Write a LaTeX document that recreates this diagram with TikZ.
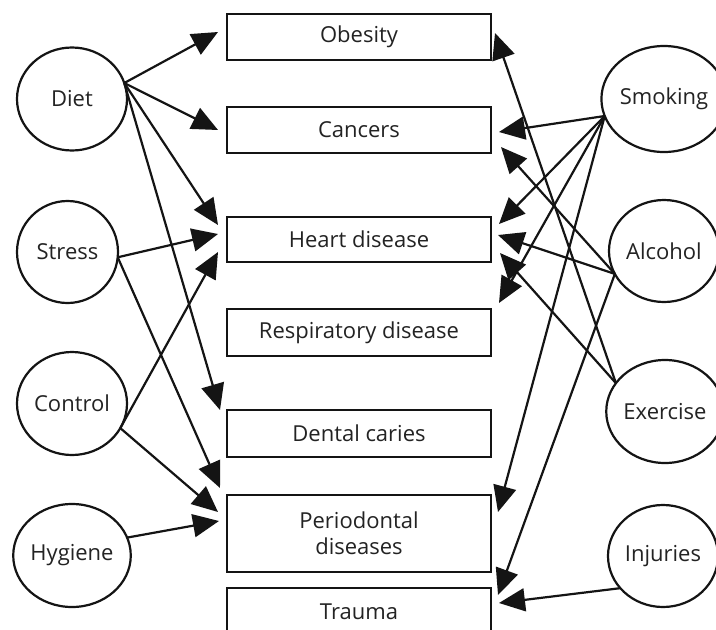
\documentclass[tikz,border=0pt]{standalone}
\usepackage{fontspec}
\setmainfont{Open Sans}
\usetikzlibrary{arrows.meta,shapes.geometric}
\definecolor{ink}{RGB}{20,20,20}
\definecolor{txt}{RGB}{35,35,35}
\tikzset{
  box/.style={draw=ink, line width=2.2pt, rectangle, minimum width=264pt, inner sep=0pt, outer sep=0pt,
    text=txt, font=\fontsize{22}{26}\selectfont, align=center},
  factor/.style={draw=ink, line width=2.2pt, ellipse, inner sep=0pt, outer sep=0pt,
    text=txt, font=\fontsize{22}{26}\selectfont},
  arr/.style={draw=ink, line width=2.2pt, -{Triangle[length=26pt,width=23pt]}}
}
\begin{document}
\begin{tikzpicture}[x=1pt,y=-1pt]
\useasboundingbox (0,0) rectangle (716,630);
\clip (0,0) rectangle (716,630);
\fill[white] (0,0) rectangle (716,630);
% disease boxes
\node[box, minimum height=46pt] (obesity) at (359,37) {Obesity};
\node[box, minimum height=46pt] (cancers) at (359,130) {Cancers};
\node[box, minimum height=45pt] (heart) at (359,239.5) {Heart disease};
\node[box, minimum height=47pt] (resp) at (359,332.5) {Respiratory disease};
\node[box, minimum height=47pt] (dental) at (359,433.5) {Dental caries};
\node[box, minimum height=77pt] (perio) at (359,533.5) {Periodontal\\diseases};
\node[box, minimum height=48pt] (trauma) at (359,612) {Trauma};
% left factors
\node[factor, minimum width=110pt, minimum height=103pt] (diet) at (72,99) {Diet};
\node[factor, minimum width=101pt, minimum height=102pt] (stress) at (67.5,252) {Stress};
\node[factor, minimum width=110pt, minimum height=103pt] (control) at (72,403.5) {Control};
\node[factor, minimum width=110pt, minimum height=103pt] (hygiene) at (72,555.5) {Hygiene};
% right factors
\node[factor, minimum width=110pt, minimum height=106pt] (smoking) at (664,99) {Smoking};
\node[factor, minimum width=110pt, minimum height=102pt] (alcohol) at (664,251) {Alcohol};
\node[factor, minimum width=110pt, minimum height=103pt] (exercise) at (665,411.5) {Exercise};
\node[factor, minimum width=110pt, minimum height=102pt] (injuries) at (663,556) {Injuries};
% left connectors
\draw[arr] (diet.17.8) -- ([shift={(-9,-5)}]obesity.west);
\draw[arr] (diet.17.8) -- ([shift={(-9,0)}]cancers.west);
\draw[arr] (diet.17.8) -- ([shift={(-9,-14.5)}]heart.west);
\draw[arr] (diet.17.8) -- ([shift={(-7,-23.5)}]dental.west);
\draw[arr] (stress.-6.8) -- ([shift={(-9,-5.5)}]heart.west);
\draw[arr] (stress.-6.8) -- ([shift={(-7,-45.5)}]perio.west);
\draw[arr] (control.-27) -- ([shift={(-9,12.5)}]heart.west);
\draw[arr] (control.-27) -- ([shift={(-9,-21.5)}]perio.west);
\draw[arr] (hygiene.18.3) -- ([shift={(-8,-12.5)}]perio.west);
% right connectors
\draw[arr] (exercise.150) -- ([shift={(4,-4)}]obesity.east);
\draw[arr] (smoking.196) -- ([shift={(8,2)}]cancers.east);
\draw[arr] (alcohol.205.6) -- ([shift={(10,17)}]cancers.east);
\draw[arr] (smoking.196) -- ([shift={(8,-15.5)}]heart.east);
\draw[arr] (alcohol.205.6) -- ([shift={(7,-4.5)}]heart.east);
\draw[arr] (exercise.150) -- ([shift={(9,13.5)}]heart.east);
\draw[arr] (smoking.196) -- ([shift={(8,-29.5)}]resp.east);
\draw[arr] (smoking.196) -- ([shift={(7,-21.5)}]perio.east);
\draw[arr] (alcohol.205.6) -- ([shift={(7,-17)}]trauma.east);
\draw[arr] (injuries.217) -- ([shift={(8,-9)}]trauma.east);
\end{tikzpicture}
\end{document}
